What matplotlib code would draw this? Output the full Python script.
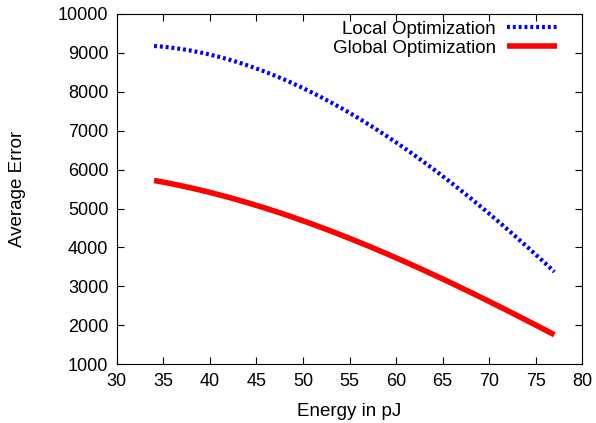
import numpy as np
import matplotlib.pyplot as plt

plt.rcParams['font.family'] = ['Liberation Sans', 'DejaVu Sans']

energy = [34, 40, 45, 50, 55, 60, 65, 70, 77]
local_err = [9180, 8950, 8600, 8100, 7450, 6700, 5850, 4850, 3380]
global_err = [5720, 5420, 5080, 4680, 4230, 3740, 3200, 2600, 1760]

# smooth curve through the read points
xs = np.linspace(34, 77, 200)
local_fit = np.polyval(np.polyfit(energy, local_err, 3), xs)
global_fit = np.polyval(np.polyfit(energy, global_err, 3), xs)

fig = plt.figure(figsize=(5.96, 4.23), dpi=100)
ax = fig.add_axes([0.196, 0.139, 0.781, 0.828])

ax.plot(xs, local_fit, color='#0000ff', linewidth=3, dashes=(0.7, 0.7),
        label='Local Optimization')
ax.plot(xs, global_fit, color='#ff0000', linewidth=4, solid_capstyle='butt',
        label='Global Optimization')

ax.set_xlim(30, 80)
ax.set_ylim(1000, 10000)
ax.set_xticks(np.arange(30, 81, 5))
ax.set_yticks(np.arange(1000, 10001, 1000))
ax.tick_params(direction='in', top=True, right=True, labelsize=13, length=5, pad=6)
ax.set_xlabel('Energy in pJ', fontsize=13.5, labelpad=10)
ax.set_ylabel('Average Error', fontsize=13.5, labelpad=23)

leg = ax.legend(loc='upper right', bbox_to_anchor=(0.946, 0.981), frameon=False,
                markerfirst=False, fontsize=13.5, handlelength=2.67,
                handletextpad=0.6, borderpad=0, borderaxespad=0, labelspacing=0.1)

fig.savefig('out.png', dpi=100)
